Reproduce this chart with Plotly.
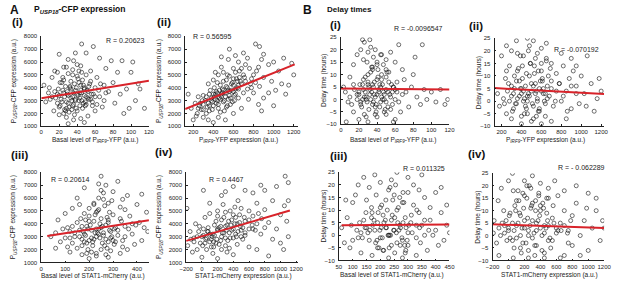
import plotly.graph_objects as go

# ---------------- DATA ----------------
# A(i)  Basal level of P_IRF9-YFP  vs  P_USP18-CFP expression
ai_x = [22,25,28,30,32,35,36,38,40,42,44,45,47,48,50,33,27,31,39,41,24,20,18,26,34,37,43,46,52,55,29,23,19,16,53,49,21,58,60,57,
        8,5,12,14,10,3,15,25,30,35,40,45,50,38,55,62,65,68,70,72,75,78,80,82,85,60,52,44,36,28,20,48,30,65,20,18,58,42,
        90,95,100,98,105,110,115,102,92,88,108,
        20,23,26,29,32,35,38,41,44,47,50,53,56,21,24,27,30,33,36,39,42,45,48,51,54,57,25,28,31,34,37,40,43,46,49,52,18,15,12,9,
        30,35,40,45,25,33,38,43,48,55,60,62,64,66,70,72,28,36,44,50]
ai_y = [3100,3600,2900,3400,4000,3300,2700,3800,3500,3000,4200,3600,2800,3900,3300,4500,4100,2500,2400,4700,3800,3400,2800,2300,3000,4300,3200,4600,3700,3100,3500,4400,3900,3200,4100,2600,2600,3500,4000,2900,
        3600,2900,4800,2200,3100,4200,5300,5600,6200,5000,5800,7400,6700,6700,5300,4800,3300,2500,4200,5500,3700,6100,4400,2800,5200,2200,1800,1600,1500,1700,1900,1300,1200,6300,6600,5200,7200,5300,
        6100,3900,5200,2400,3000,3900,2400,6000,2000,3500,4300,
        2500,2900,3300,3700,4100,2600,3000,3400,3800,4200,2700,3100,3500,4400,4800,2200,2800,3200,3600,4000,4400,3000,3400,3800,4300,2600,2000,2400,2100,2300,1900,2200,2600,2400,2900,3200,3500,3700,3300,4000,
        5100,5400,4900,5200,4600,3900,3100,3600,4000,4500,3300,2700,3800,4300,3000,3600,5600,6100,5700,5000]
ai_fit_x = [0, 120]
ai_fit_y = [3180, 4540]
ai_r = "R = 0.20623"

# A(ii)  P_IRF9-YFP expression  vs  P_USP18-CFP expression
aii_x = [350,380,400,420,440,460,480,500,520,540,560,580,600,620,640,450,470,510,530,550,410,390,430,490,570,610,650,660,680,700,360,340,320,300,280,260,240,300,700,720,
         200,220,250,180,150,230,300,350,400,450,520,600,680,750,780,800,820,850,880,900,760,740,700,650,600,550,500,450,400,350,820,860,900,950,980,1000,1020,1050,1080,1100,950,900,850,1150,1200,1180,1120,1000,880,620,560,480,
         380,410,440,470,500,530,560,590,620,650,400,430,460,490,520,550,580,610,640,670,360,390,420,450,480,510,540,570,600,630,
         330,370,440,500,560,620,680,710,740,770,300,330,360,290,270,250,470,530,590,650,420,480,540,600,660,720,780,800,830,860]
aii_y = [2800,3200,2600,3500,3000,3800,3300,2900,3600,4000,3400,3800,4200,3500,4500,2400,4200,2200,4600,3100,4000,2300,3700,3900,2700,3000,3900,4800,4300,3600,3500,2500,3000,2700,2300,2600,2000,3400,5000,4500,
         1500,2800,3300,2400,3500,1800,1700,1500,1300,1700,1500,2000,2400,3100,4000,5000,4400,5600,6200,4800,5500,6300,6700,6000,5500,6200,5200,5000,4600,4300,7400,7200,6600,5800,4500,6000,3800,5300,4300,6300,3600,3200,2700,4200,5000,5900,3500,2600,2200,6500,7000,6400,
         3000,3300,3600,3100,3800,4100,3700,4400,3900,4200,3500,2800,3200,3600,3300,3800,4300,3400,4000,4500,2600,2900,3100,2700,3500,3000,2600,3200,3700,4700,
         3300,3800,4400,4500,4900,5200,5500,4800,3900,4300,2300,2000,2200,3000,2800,2400,2100,2500,2900,3200,5200,5600,5000,4700,5300,5800,4700,3600,5300,4100]
aii_fit_x = [120, 1210]
aii_fit_y = [2350, 5820]
aii_r = "R = 0.56595"

# B(i)  Basal level of P_IRF9-YFP  vs  delay time
bi_x = [20,22,25,28,30,32,35,36,38,40,42,44,46,48,50,52,55,27,33,37,41,24,18,15,12,45,50,58,60,31,39,43,26,34,29,47,36,53,57,62,
        5,8,3,10,14,18,22,26,32,38,44,50,55,60,64,68,70,72,75,78,80,82,84,88,90,92,95,100,105,110,115,118,20,30,40,50,60,66,14,6,24,58,
        20,24,28,32,36,40,44,48,52,56,22,26,30,34,38,42,46,50,54,58,21,25,29,33,37,41,45,49,53,57,18,14,10,60,64,68,30,35,40,45,
        23,27,31,35,39,43,47,51,55,62,25,30,35,40,45,50,28,38,48,33]
bi_y = [2,-1,4,0,6,2,-2,5,1,8,3,-1,6,2,4,-3,1,9,11,7,12,6,0,4,-2,10,9,5,0,-4,-5,-3,-6,13,15,14,17,11,-2,3,
        3,-1,5,9,14,18,20,23,24,20,18,16,19,15,22,12,8,3,-3,5,10,17,1,-2,22,4,0,3,-1,4,-2,0,-8,-9,-7,-6,-8,-5,-5,-9,24,-9,
        3,0,1,4,-1,2,5,0,3,6,-2,1,7,3,-3,4,0,-1,2,5,6,8,-1,0,2,9,1,-4,7,3,2,6,1,4,-1,2,10,12,14,8,
        -3,3,5,6,-2,6,3,11,-4,7,16,19,13,15,18,12,-7,-6,-5,21]
bi_fit_x = [0, 120]
bi_fit_y = [4.4, 4.0]
bi_r = "R = -0.0096547"

# B(ii)  P_IRF9-YFP expression  vs  delay time
bii_x = [300,330,350,380,400,420,440,460,480,500,520,540,560,580,600,620,640,660,680,700,360,410,450,490,530,570,610,650,390,470,320,260,240,220,280,430,550,720,750,460,
         160,180,200,250,300,350,520,560,600,700,750,780,800,820,850,880,900,920,950,980,1000,1030,1060,1100,1130,1160,1200,1180,850,700,600,500,400,300,800,900,650,1050,950,250,
         280,320,360,400,440,480,520,560,600,640,300,340,380,420,460,500,540,580,620,660,310,350,390,430,470,510,550,590,630,670,
         270,250,230,700,740,780,820,860,900,950,330,370,410,450,490,530,570,610,650,690,360,420,480,540,600,400,460,520,580,640]
bii_y = [2,5,-1,8,3,0,6,2,10,4,-2,7,1,5,12,3,-1,6,2,8,12,14,-3,15,11,-4,9,16,18,20,-3,4,9,1,14,-5,-6,-2,4,25,
         3,-2,18,22,20,24,24,19,21,15,11,7,0,14,4,9,-3,12,6,-1,10,3,18,7,-4,1,4,9,-7,-8,-9,-8,-9,-7,19,17,23,-2,14,-5,
         0,3,1,5,-2,2,6,0,4,3,6,-1,2,4,0,7,3,-3,5,1,-4,8,5,1,3,-1,4,8,0,10,
         7,12,-1,5,0,7,2,-4,6,3,10,13,9,11,15,14,12,8,17,13,19,18,22,17,15,-6,-5,-7,-4,-6]
bii_fit_x = [130, 1230]
bii_fit_y = [5.2, 2.8]
bii_r = "R = -0.070192"

# A(iii)  Basal level of STAT1-mCherry  vs  P_USP18-CFP expression
aiii_x = [180,190,200,210,220,230,240,250,260,270,280,290,300,310,200,215,235,255,245,225,170,160,150,140,130,120,320,330,340,350,265,285,195,275,305,185,295,240,220,260,
          40,60,70,80,90,100,110,120,130,150,160,170,200,230,250,270,300,320,340,360,370,380,390,400,410,420,430,440,445,360,330,280,240,180,100,60,350,420,
          160,175,190,205,220,235,250,265,280,295,165,180,195,210,225,240,255,270,285,300,170,185,200,215,230,245,260,275,290,305,
          140,130,120,110,320,335,350,365,380,395,200,220,240,260,280,210,230,250,270,290,150,170,190,310,330,340,180,230,280,250]
aiii_y = [3200,3800,2700,3500,4200,3000,3600,4400,3100,3900,2600,3400,4700,3700,4600,2300,5000,2500,2900,3300,2800,3500,4100,3000,2500,3400,3100,4400,2700,3800,5400,4900,2000,2100,2400,4300,5800,6000,5600,6400,
          3000,3300,4300,2600,3600,4800,2200,1800,5200,6000,5500,1600,1300,1500,7700,7000,6500,7300,5900,6200,4600,3200,2400,5500,4100,6300,3700,4900,3400,2000,1700,1400,7100,6800,2900,2100,5100,2700,
          3000,3400,2500,3900,2800,3300,3700,2300,4100,3000,4400,2600,3600,2900,4700,3200,3800,2800,3500,2700,3800,3100,4200,2600,3600,4000,3300,4500,2900,3600,
          3300,3800,2900,3700,3500,4200,3000,3600,4000,3900,5200,5500,5100,5900,5600,1800,1700,2000,1600,1900,2100,2300,1700,2600,5300,2200,4800,4900,4300,6600]
aiii_fit_x = [25, 450]
aiii_fit_y = [3050, 4270]
aiii_r = "R = 0.20614"

# A(iv)  STAT1-mCherry expression  vs  P_USP18-CFP expression
aiv_x = [50,100,150,200,250,300,350,400,450,500,120,180,220,280,330,380,430,480,520,550,80,20,-20,60,160,240,300,360,420,270,200,600,650,700,40,140,320,100,250,460,
         -180,-150,-120,-100,-80,-60,-40,-190,0,200,400,600,750,800,850,900,950,1000,1050,1080,1100,1000,900,800,750,650,550,400,300,1060,1100,1040,850,700,1100,950,20,700,
         0,40,80,120,160,200,240,280,320,360,400,440,480,520,20,60,100,140,180,220,260,300,340,380,420,460,500,540,
         10,70,130,190,250,310,370,430,490,550,600,640,680,720,760,800,-60,-100,-140,-30,150,250,350,450,550,650,200,300,400,100,500,600]
aiv_y = [2800,3200,2600,3500,3000,3800,3300,2900,4000,3500,2200,4200,2400,4500,2700,4300,3200,4700,2800,4200,3700,3100,2500,2000,3900,3800,2300,5000,5300,5500,5000,3600,4600,4000,4500,1700,1800,5600,6200,5800,
         2300,3400,1800,2900,4000,2000,3400,5200,1400,1300,1600,2200,3200,5100,4100,5800,3600,4700,5400,4200,3000,2500,2800,6600,7000,6400,6600,6900,6500,7700,7200,2000,1500,2000,5800,6900,6600,5600,
         3000,2500,3400,2800,3100,3600,2700,3300,3900,2900,3600,3000,4100,3700,3600,2900,2600,3200,2500,3700,3300,2900,4200,3500,4000,3400,3000,4500,
         2300,3400,3000,2800,4300,3500,3900,4500,3800,3300,4300,3900,3500,4800,4400,3700,3000,2600,2800,3800,2200,2000,2100,2400,3100,3600,4600,4900,4700,4800,5200,5000]
aiv_fit_x = [-200, 1120]
aiv_fit_y = [2670, 5030]
aiv_r = "R = 0.4467"

# B(iii)  Basal level of STAT1-mCherry  vs  delay time
biii_x = [180,190,200,210,220,230,240,250,260,270,280,290,300,310,320,200,220,240,260,280,150,160,170,140,130,330,340,350,360,250,230,270,300,190,210,290,120,380,400,240,
          60,70,80,90,100,110,120,140,160,180,200,260,300,320,340,360,380,400,420,430,440,450,410,370,330,280,230,170,130,100,75,95,420,350,300,150,440,
          155,172,188,203,218,233,248,263,278,293,168,183,198,213,228,243,258,273,288,303,162,177,192,207,222,237,252,267,282,297,
          145,135,125,115,315,330,345,360,375,390,205,225,245,265,285,212,232,252,272,292,148,168,195,312,332,342,185,235,282,255]
biii_y = [2,5,-1,8,3,0,6,2,10,4,-2,7,1,5,12,11,14,-4,-3,13,3,-2,9,6,1,-1,9,4,0,16,18,15,17,-5,-6,-7,-1,6,2,22,
          3,-3,7,-5,13,16,20,23,19,24,21,25,23,20,18,15,11,17,9,-2,4,1,-4,-6,-8,-9,-9,-8,-7,-2,14,4,19,24,-4,14,12,
          1,4,-2,3,6,0,2,5,-1,3,7,-3,2,5,0,8,1,3,-4,4,2,6,9,-1,3,0,7,2,5,-2,
          3,-1,5,2,1,4,-3,6,2,0,12,10,14,11,13,-6,-5,-7,-4,-6,9,11,-5,8,10,3,16,19,17,20]
biii_fit_x = [60, 450]
biii_fit_y = [4.0, 4.3]
biii_r = "R = 0.011325"

# B(iv)  STAT1-mCherry expression  vs  delay time
biv_x = [0,50,100,150,200,250,300,350,400,450,500,550,600,80,130,180,230,280,330,380,430,480,530,20,-50,-100,70,120,260,340,420,650,700,750,620,200,300,160,-20,560,
         -180,-150,-130,-90,-60,-190,-120,0,50,400,500,580,700,750,800,850,900,950,1000,1050,1100,1150,1180,1000,900,800,650,450,250,1100,850,980,1200,700,60,
         -50,0,50,100,150,200,250,300,350,400,450,500,550,600,-30,20,70,120,170,220,270,320,370,420,470,520,570,620,
         10,90,140,190,240,290,340,390,440,490,-120,-80,660,700,740,780,100,200,300,400,500,150,250,350,450,60,180,280,380,480,230,330]
biv_y = [2,5,-1,8,3,0,6,2,10,4,-2,7,1,12,14,-3,15,11,-4,17,13,9,-5,9,4,0,-5,18,20,14,-6,5,10,2,16,22,24,-7,-2,12,
         6,-3,14,19,10,1,-8,22,25,21,19,22,18,-3,8,13,0,6,17,3,10,-2,6,-6,-8,-4,-9,-9,-9,15,20,11,3,-8,-9,
         1,3,-2,4,0,6,2,-1,5,3,1,4,-2,3,6,-1,2,5,3,-3,4,1,6,0,3,-1,5,2,
         8,10,9,11,7,12,10,8,11,6,3,5,2,4,1,6,14,16,13,12,15,-5,-6,-4,-7,18,17,19,16,15,20,-8]
biv_fit_x = [-200, 1200]
biv_fit_y = [4.5, 3.0]
biv_r = "R = - 0.062289"

# ---------------- LAYOUT HELPERS ----------------
W, H = 617, 284
FONT = "Liberation Sans, Arial, Helvetica, sans-serif"


def fx(p):
    return p / W


def fy(p):
    return 1 - p / H


P_USP = "P<sub><i>USP18</i></sub>-CFP expression (a.u.)"
DELAY = "Delay time (hours)"

panels = [
    dict(x=ai_x, y=ai_y, fitx=ai_fit_x, fity=ai_fit_y, r=ai_r, box=(35, 145, 34, 126),
         xr=[0, 120], yr=[1000, 8000], xt=[0, 20, 40, 60, 80, 100, 120], yt=list(range(1000, 8001, 1000)),
         rpos=(121, 38), ytitle=P_USP, ytx=7,
         xtitle="Basal level of P<sub><i>IRF9</i></sub>-YFP (a.u.)", xtpos=(90, 140)),
    dict(x=aii_x, y=aii_y, fitx=aii_fit_x, fity=aii_fit_y, r=aii_r, box=(182, 297, 34, 126),
         xr=[120, 1240], yr=[1000, 8000], xt=[200, 400, 600, 800, 1000, 1200], yt=list(range(1000, 8001, 1000)),
         rpos=(209, 34), ytitle=P_USP, ytx=156,
         xtitle="P<sub><i>IRF9</i></sub>-YFP expression (a.u.)", xtpos=(236, 140)),
    dict(x=bi_x, y=bi_y, fitx=bi_fit_x, fity=bi_fit_y, r=bi_r, box=(341, 452, 35, 124),
         xr=[0, 120], yr=[-10, 25], xt=[0, 20, 40, 60, 80, 100, 120], yt=list(range(-10, 26, 5)),
         rpos=(420, 26), ytitle=DELAY, ytx=324,
         xtitle="Basal level of P<sub><i>IRF9</i></sub>-YFP (a.u.)", xtpos=(394, 140)),
    dict(x=bii_x, y=bii_y, fitx=bii_fit_x, fity=bii_fit_y, r=bii_r, box=(498, 610, 36, 126),
         xr=[130, 1230], yr=[-10, 25], xt=[200, 400, 600, 800, 1000, 1200], yt=list(range(-10, 26, 5)),
         rpos=(582, 48), ytitle=DELAY, ytx=482,
         xtitle="P<sub><i>IRF9</i></sub>-YFP expression (a.u.)", xtpos=(550, 140)),
    dict(x=aiii_x, y=aiii_y, fitx=aiii_fit_x, fity=aiii_fit_y, r=aiii_r, box=(35, 145, 173, 265),
         xr=[0, 450], yr=[1000, 8000], xt=[0, 100, 200, 300, 400], yt=list(range(1000, 8001, 1000)),
         rpos=(64, 180), ytitle=P_USP, ytx=7,
         xtitle="Basal level of STAT1-mCherry (a.u.)", xtpos=(88, 278.5)),
    dict(x=aiv_x, y=aiv_y, fitx=aiv_fit_x, fity=aiv_fit_y, r=aiv_r, box=(183, 297, 173, 265),
         xr=[-200, 1220], yr=[1000, 8000], xt=list(range(-200, 1201, 200)), yt=list(range(1000, 8001, 1000)),
         rpos=(224, 180), ytitle=P_USP, ytx=156,
         xtitle="STAT1-mCherry expression (a.u.)", xtpos=(242, 278.5)),
    dict(x=biii_x, y=biii_y, fitx=biii_fit_x, fity=biii_fit_y, r=biii_r, box=(339, 452, 173, 263),
         xr=[50, 450], yr=[-10, 25], xt=list(range(50, 451, 50)), yt=list(range(-10, 26, 5)),
         rpos=(426, 169), ytitle=DELAY, ytx=324,
         xtitle="Basal level of STAT1-mCherry (a.u.)", xtpos=(393, 278)),
    dict(x=biv_x, y=biv_y, fitx=biv_fit_x, fity=biv_fit_y, r=biv_r, box=(496, 610, 174, 263),
         xr=[-200, 1200], yr=[-10, 25], xt=list(range(-200, 1201, 200)), yt=list(range(-10, 26, 5)),
         rpos=(587, 168), ytitle=DELAY, ytx=481,
         xtitle="STAT1-mCherry expression (a.u.)", xtpos=(554, 278)),
]

fig = go.Figure()
layout = dict(
    width=W, height=H, margin=dict(l=0, r=0, t=0, b=0),
    paper_bgcolor="white", plot_bgcolor="white", showlegend=False,
    font=dict(family=FONT, color="#222"),
)
annotations = []

for i, p in enumerate(panels, start=1):
    sx = "" if i == 1 else str(i)
    xa, ya = "x" + sx, "y" + sx
    fig.add_trace(go.Scatter(
        x=p["x"], y=p["y"], mode="markers", xaxis=xa, yaxis=ya,
        marker=dict(symbol="circle-open", size=4, color="rgba(15,15,15,0.85)", line=dict(width=0.7)),
        hoverinfo="skip"))
    fig.add_trace(go.Scatter(
        x=p["fitx"], y=p["fity"], mode="lines", xaxis=xa, yaxis=ya,
        line=dict(color="#d8232a", width=2), hoverinfo="skip"))
    l, r, t, b = p["box"]
    axis_common = dict(showline=True, linecolor="#222", linewidth=0.8, mirror=False,
                       ticks="inside", ticklen=2, tickwidth=0.7, tickcolor="#222",
                       showgrid=False, zeroline=False, tickangle=0,
                       tickfont=dict(size=6, family=FONT, color="#222"))
    layout["xaxis" + sx] = dict(axis_common, domain=[fx(l), fx(r)], range=p["xr"],
                               tickmode="array", tickvals=p["xt"], anchor=ya, ticklabelstandoff=0)
    layout["yaxis" + sx] = dict(axis_common, domain=[fy(b), fy(t)], range=p["yr"],
                               tickmode="array", tickvals=p["yt"], anchor=xa, ticklabelstandoff=2)
    annotations.append(dict(text=p["r"], x=fx(p["rpos"][0]), y=fy(p["rpos"][1]), xref="paper", yref="paper",
                            showarrow=False, font=dict(size=7, family=FONT, color="#222"),
                            xanchor="center", yanchor="middle"))
    annotations.append(dict(text=p["ytitle"], x=fx(p["ytx"]), y=fy((t + b) / 2), xref="paper", yref="paper",
                            showarrow=False, textangle=-90, font=dict(size=6.5, family=FONT, color="#222"),
                            xanchor="center", yanchor="middle"))
    annotations.append(dict(text=p["xtitle"], x=fx(p["xtpos"][0]), y=fy(p["xtpos"][1]), xref="paper", yref="paper",
                            showarrow=False, font=dict(size=6.5, family=FONT, color="#222"),
                            xanchor="center", yanchor="middle", borderpad=0))

# panel letters and titles
labels = [
    ("<b>A</b>", 1, 7, 12, "left"),
    ("<b>P<sub><i>USP18</i></sub>-CFP expression</b>", 26, 7, 8.5, "left"),
    ("<b>B</b>", 300, 7, 12, "left"),
    ("<b>Delay times</b>", 325, 7, 8, "left"),
    ("<b>(i)</b>", 3, 19, 11.5, "left"),
    ("<b>(ii)</b>", 151, 19, 11.5, "left"),
    ("<b>(i)</b>", 328, 22, 11.5, "left"),
    ("<b>(ii)</b>", 470, 23, 11.5, "left"),
    ("<b>(iii)</b>", 2, 155, 11.5, "left"),
    ("<b>(iv)</b>", 149, 152, 11.5, "left"),
    ("<b>(iii)</b>", 328, 156, 11.5, "left"),
    ("<b>(iv)</b>", 469, 154, 11.5, "left"),
]
for text, x, y, size, anchor in labels:
    annotations.append(dict(text=text, x=fx(x), y=fy(y), xref="paper", yref="paper", showarrow=False,
                            xanchor=anchor, yanchor="middle", font=dict(size=size, family=FONT, color="#111")))

layout["annotations"] = annotations
fig.update_layout(**layout)
fig.write_html("out.html",
               config={"displayModeBar": False},
               post_script="document.body.style.margin='0';document.body.style.padding='0';"
                           "document.body.style.overflow='hidden';")
